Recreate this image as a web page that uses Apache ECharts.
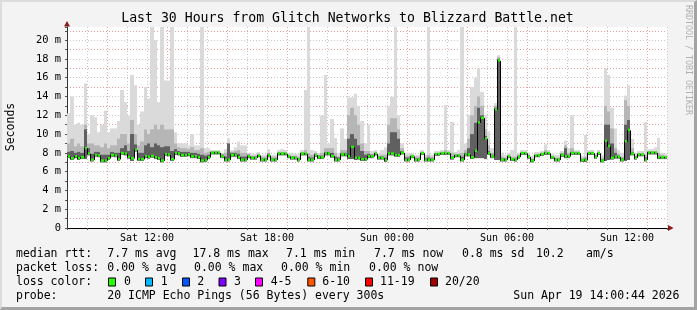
<!DOCTYPE html>
<html><head><meta charset="utf-8">
<script src="https://cdn.jsdelivr.net/npm/echarts@6/dist/echarts.min.js"></script>
<style>
html,body{margin:0;padding:0;background:#f3f3f3;overflow:hidden;}
#c{width:697px;height:310px;position:absolute;left:0;top:0;}
#frame{position:absolute;left:0;top:0;width:697px;height:310px;box-sizing:border-box;border-top:2px solid #dcdcdc;border-left:2px solid #dcdcdc;border-right:3px solid #a3a3a3;border-bottom:3px solid #a3a3a3;pointer-events:none;}
</style></head><body><div id="c"></div><div id="frame"></div>
<script>
// ---- data ----
const startHour = 8;          // Sat 08:00
const stepHours = 1 / 6;      // 10-minute samples
const median = [
7.6,7.4,7.6,7.4,7.5,8.5,7.9,7.25,7.75,7.7,
7.15,7.15,7.4,7.75,7.7,7.3,7.95,7.9,7.55,7.4,
8.3,7.3,7.3,7.6,7.55,7.65,7.5,7.4,7.15,7.85,
7.8,7.3,7.95,7.9,7.75,7.75,7.8,7.6,7.6,7.5,
7.15,7.2,7.5,8.0,8.0,8.0,7.6,7.25,7.25,7.75,
7.75,7.5,7.25,7.25,7.6,7.45,7.45,7.7,7.25,7.25,
7.7,7.25,7.25,7.9,7.9,7.9,7.6,7.45,7.45,7.25,
7.9,7.9,7.25,7.25,7.75,7.5,7.5,7.9,7.9,7.65,
7.25,7.25,7.8,7.8,7.6,8.6,7.45,7.45,7.3,7.3,
7.6,7.6,7.9,7.45,7.45,7.2,7.9,7.9,7.75,7.75,
8.0,7.25,7.25,7.6,7.25,7.25,7.95,7.25,7.25,7.25,
7.85,7.85,7.95,7.95,7.95,7.45,7.7,7.7,7.25,7.8,
7.8,7.5,8.2,11.2,11.7,9.5,7.95,7.6,12.6,17.8,
7.25,7.25,7.6,7.3,7.25,7.55,7.95,7.95,7.55,7.15,
7.7,7.7,7.85,7.95,7.95,7.5,7.25,7.25,7.75,7.6,
7.6,7.95,7.95,7.95,7.2,7.2,7.95,7.95,7.55,7.95,
7.15,9.25,8.7,7.45,7.55,7.55,7.25,9.2,10.4,7.9,
7.45,7.8,7.8,7.25,8.0,8.0,8.0,7.5,7.5,7.5];
const smokeHi = [
12.2,14.0,11.0,11.2,11.0,15.4,10.0,12.0,11.8,10.2,
11.0,12.5,10.2,10.6,10.6,11.4,14.7,13.4,12.0,16.3,
15.2,11.0,12.4,15.0,13.8,22,20.0,13.4,22,15.7,
15.7,22,10.2,9.0,9.0,9.0,8.8,10.0,8.8,8.8,
22,8.5,8.5,8.3,8.3,8.3,8.0,8.4,9.6,8.3,
8.6,9.2,8.8,8.8,8.0,7.9,7.9,8.1,7.8,7.8,
8.4,7.8,7.8,8.3,8.4,8.3,8.0,8.0,7.9,7.9,
8.3,14.7,22,8.3,8.2,8.0,12.0,16.3,9.0,11.6,
9.6,8.0,10.6,9.5,13.9,13.9,14.3,13.0,11.4,9.0,
11.0,8.2,8.3,7.9,8.3,8.6,13.0,14.0,22,12.0,
9.0,8.0,8.0,8.0,7.8,7.8,8.3,7.8,22,7.8,
8.2,8.2,8.3,13.1,8.3,11.3,8.1,8.3,22,9.0,
12.0,15.0,16.0,17.0,14.5,12.0,10.3,8.5,13.3,18.4,
8.0,7.8,8.0,8.3,22,8.0,8.3,8.3,8.0,7.7,
8.1,8.1,8.2,8.9,8.3,7.9,7.8,7.8,8.2,9.3,
8.5,12.0,8.3,8.3,7.7,9.9,8.3,8.3,8.0,8.3,
7.8,17.0,16.3,12.8,10.6,8.3,8.0,14.1,15.2,9.5,
8.0,8.2,8.2,11.3,8.4,8.4,8.6,9.6,8.0,7.9];
const smokeMid = [
9.0,9.5,8.7,9.0,8.7,11.0,9.0,9.0,8.8,8.8,
8.6,9.0,8.5,8.8,8.8,9.5,10.0,10.0,9.0,11.5,
10.0,8.8,9.2,10.5,10.0,10.5,11.0,10.5,11.0,10.5,
10.5,10.5,9.0,8.6,8.5,8.5,8.4,8.6,8.3,8.3,
8.5,8.0,8.1,8.2,8.2,8.2,7.9,8.0,9.0,8.1,
8.2,8.3,8.0,8.0,7.9,7.7,7.7,7.9,7.6,7.6,
8.0,7.6,7.6,8.1,8.1,8.1,7.8,7.7,7.7,7.6,
8.1,8.3,8.0,7.8,8.0,7.8,8.0,8.5,8.5,8.5,
8.0,7.6,8.3,8.3,12.0,12.8,12.0,11.0,9.0,8.2,
8.2,7.9,8.1,7.7,7.8,7.8,11.0,11.7,11.7,10.5,
8.5,7.7,7.7,7.8,7.6,7.6,8.1,7.6,7.8,7.6,
8.0,8.0,8.1,8.3,8.1,8.0,7.9,7.9,8.0,8.3,
9.5,12.0,13.0,14.0,13.0,10.5,8.8,8.0,13.0,18.2,
7.6,7.5,7.8,7.6,7.6,7.8,8.1,8.1,7.8,7.4,
7.9,7.9,8.0,8.3,8.1,7.7,7.5,7.5,8.0,8.8,
8.0,8.5,8.1,8.1,7.5,7.6,8.1,8.1,7.8,8.1,
7.5,13.0,12.4,10.6,8.5,7.9,7.6,13.6,13.0,8.5,
7.7,8.0,8.0,7.8,8.2,8.2,8.2,8.0,7.8,7.7];
const smokeDark = [
8.1,8.2,8.0,8.1,8.0,10.5,8.5,7.9,8.1,8.1,
7.8,7.8,7.8,8.1,8.0,8.0,8.5,8.8,8.2,10.0,
8.9,8.0,8.0,8.8,9.0,8.6,9.0,8.8,8.6,8.7,
8.7,8.2,8.4,8.2,8.1,8.1,8.1,8.0,8.0,7.9,
7.8,7.7,7.8,8.1,8.1,8.1,7.8,7.6,9.0,8.0,
8.0,7.9,7.6,7.6,7.8,7.6,7.6,7.8,7.4,7.4,
7.9,7.4,7.4,8.0,8.0,8.0,7.7,7.6,7.6,7.4,
8.0,8.0,7.6,7.5,7.9,7.7,7.7,8.1,8.1,8.0,
7.6,7.5,8.0,8.0,9.5,10.0,9.5,8.8,8.2,7.8,
7.9,7.8,8.0,7.6,7.6,7.5,9.0,10.2,10.2,9.5,
8.2,7.5,7.5,7.7,7.4,7.4,8.0,7.4,7.5,7.4,
7.9,7.9,8.0,8.0,8.0,7.6,7.8,7.8,7.6,8.0,
8.5,10.0,11.2,12.8,12.0,9.8,8.2,7.8,12.8,18.0,
7.4,7.4,7.7,7.4,7.4,7.7,8.0,8.0,7.7,7.3,
7.8,7.8,7.9,8.1,8.0,7.6,7.4,7.4,7.9,8.5,
7.8,8.1,8.0,8.0,7.3,7.4,8.0,8.0,7.7,8.0,
7.3,11.0,11.0,9.0,8.0,7.7,7.4,11.0,11.5,8.1,
7.6,7.9,7.9,7.5,8.1,8.1,8.1,7.7,7.6,7.6];
// lowest ping where the smoke reaches well below the median
const smokeLowSpikes = {5:7.5,19:7.3,84:7.5,85:7.5,86:7.4,122:7.6,123:7.6,124:7.6,125:7.5,128:7.4,129:7.4,161:7.3,162:7.4,167:7.3,168:7.4};
const xTickLabels = {12:'Sat 12:00',18:'Sat 18:00',24:'Sun 00:00',30:'Sun 06:00',36:'Sun 12:00'};
const yTickLabels = {0:'0',2:'2 m',4:'4 m',6:'6 m',8:'8 m',10:'10 m',12:'12 m',14:'14 m',16:'16 m',18:'18 m',20:'20 m'};
const titleText = 'Last 30 Hours from Glitch Networks to Blizzard Battle.net';
const yAxisName = 'Seconds';
const rowHeads = ['median rtt:','packet loss:','loss color:','probe:'];
const rttStats = ['7.7 ms avg','17.8 ms max','7.1 ms min','7.7 ms now','0.8 ms sd','10.2','am/s'];
const lossStats = ['0.00 % avg','0.00 % max','0.00 % min','0.00 % now'];
const lossLabels = ['0','1','2','3','4-5','6-10','11-19','20/20'];
const lossColors = ['#26ff00','#00b8ff','#0059ff','#7e00ff','#ff00ff','#ff5500','#ff0000','#a10000'];
const probeText = '20 ICMP Echo Pings (56 Bytes) every 300s';
const dateText = 'Sun Apr 19 14:00:44 2026';
const sideText = 'RRDTOOL / TOBI OETIKER';

// ---- layout ----
const MONO = '"DejaVu Sans Mono", monospace';
const rowY = [254.5, 268.5, 282.5, 296.5];
const rttX = [107.3, 192.5, 286, 374, 462, 536, 586];
const lossX = [107.3, 194, 281, 369];
const boxX = [108, 145, 182, 218.5, 255, 307.3, 365, 430];
const boxLabelX = [124, 160.7, 197.3, 234, 270.7, 322.3, 380, 445];

const smokeData = median.map((m, i) => [startHour + i * stepHours, m, smokeHi[i], smokeMid[i], smokeDark[i],
  (smokeLowSpikes[i] !== undefined ? smokeLowSpikes[i] : m)]);
const medData = median.map((m, i) => [startHour + i * stepHours, m, i > 0 ? median[i - 1] : m]);

function renderSmoke(params, api) {
  const t = api.value(0);
  const xa = Math.round(api.coord([t, 0])[0]);
  const xb = Math.round(api.coord([t + stepHours, 0])[0]);
  const yLow = api.coord([t, api.value(5)])[1] + 1.5;
  const bands = [[api.value(2), '#dadada'], [api.value(3), '#b6b6b6'], [api.value(4), '#606060']];
  const children = [];
  bands.forEach(b => {
    const yTop = api.coord([t, b[0]])[1];
    if (yLow - yTop > 0.5) children.push({type: 'rect', shape: {x: xa, y: yTop, width: Math.max(1, xb - xa), height: yLow - yTop}, style: {fill: b[1]}});
  });
  return {type: 'group', children};
}
function renderMedian(params, api) {
  const t = api.value(0);
  const xa = Math.round(api.coord([t, 0])[0]);
  const xb = Math.round(api.coord([t + stepHours, 0])[0]);
  const y = api.coord([t, api.value(1)])[1];
  const yp = api.coord([t, api.value(2)])[1];
  return {type: 'group', children: [
    {type: 'line', shape: {x1: xa + 0.5, y1: yp, x2: xa + 0.5, y2: y}, style: {stroke: '#000', lineWidth: 1}},
    {type: 'line', shape: {x1: xa, y1: y, x2: xb, y2: y}, style: {stroke: '#000', lineWidth: 1}},
    {type: 'rect', shape: {x: xa + 1, y: y - 1.5, width: Math.max(1, xb - xa - 1), height: 2.5}, style: {fill: '#22f500'}}
  ]};
}

const graphics = [];
graphics.push({type: 'text', x: 347.5, y: 19, style: {text: titleText, font: '13.2px ' + MONO, fill: '#000', align: 'center', verticalAlign: 'middle'}});
graphics.push({type: 'text', x: 11, y: 127, rotation: Math.PI / 2, style: {text: yAxisName, font: '11.5px ' + MONO, fill: '#000', align: 'center', verticalAlign: 'middle'}});
graphics.push({type: 'text', x: 688, y: 60, rotation: -Math.PI / 2, style: {text: sideText, font: '8.3px ' + MONO, fill: '#b0b0b0', align: 'center', verticalAlign: 'middle'}});
const LF = '11.5px ' + MONO;
function addText(txt, x, y) {
  graphics.push({type: 'text', x: x, y: y, style: {text: txt, font: LF, fill: '#000', align: 'left', verticalAlign: 'middle'}});
}
rowHeads.forEach((h, r) => addText(h, 16, rowY[r]));
rttStats.forEach((s, k) => addText(s, rttX[k], rowY[0]));
lossStats.forEach((s, k) => addText(s, lossX[k], rowY[1]));
lossLabels.forEach((s, k) => {
  graphics.push({type: 'rect', shape: {x: boxX[k] + 0.5, y: rowY[2] - 4.5, width: 7, height: 8}, style: {fill: lossColors[k], stroke: '#000', lineWidth: 1}});
  addText(s, boxLabelX[k], rowY[2]);
});
addText(probeText, 107.3, rowY[3]);
addText(dateText, 513.3, rowY[3]);

const chart = echarts.init(document.getElementById('c'), null, {renderer: 'canvas'});
const option = {
  animation: false,
  backgroundColor: '#f3f3f3',
  grid: {left: 67, right: 30, top: 27, bottom: 82, show: true, backgroundColor: '#ffffff', borderWidth: 0},
  xAxis: {
    type: 'value', min: 8, max: 38, interval: 1,
    axisLine: {lineStyle: {color: '#000', width: 1}},
    axisTick: {show: true, length: 2, lineStyle: {color: '#555'}},
    axisLabel: {margin: 5, color: '#000', fontFamily: MONO, fontSize: 10, formatter: v => xTickLabels[v] || ''},
    splitLine: {show: true, showMinLine: false, lineStyle: {color: ['#c8c8c8', '#e9a0a0', '#c8c8c8'], type: [1, 2], width: 1}}
  },
  yAxis: {
    type: 'value', min: 0, max: 21.4, interval: 1,
    axisLine: {show: true, lineStyle: {color: '#333', width: 1}},
    axisTick: {show: true, length: 2, lineStyle: {color: '#555'}},
    axisLabel: {margin: 6, color: '#000', fontFamily: MONO, fontSize: 10.4, formatter: v => yTickLabels[v] || ''},
    splitLine: {show: true, showMinLine: false, showMaxLine: false, lineStyle: {color: ['#e9a0a0', '#c8c8c8'], type: [1, 2], width: 1}}
  },
  series: [
    {type: 'custom', name: 'smoke', clip: true, renderItem: renderSmoke, data: smokeData, z: 3},
    {type: 'custom', name: 'median', clip: true, renderItem: renderMedian, data: medData, z: 4}
  ],
  graphic: graphics
};
chart.setOption(option);
const pEnd = chart.convertToPixel({gridIndex: 0}, [38, 0]);
const pTop = chart.convertToPixel({gridIndex: 0}, [8, 21.4]);
graphics.push({type: 'polygon', shape: {points: [[pEnd[0] + 1, pEnd[1] - 3], [pEnd[0] + 6.5, pEnd[1]], [pEnd[0] + 1, pEnd[1] + 3]]}, style: {fill: '#8b1a1a'}});
graphics.push({type: 'polygon', shape: {points: [[pTop[0] - 3, pTop[1] - 0.5], [pTop[0], pTop[1] - 6], [pTop[0] + 3, pTop[1] - 0.5]]}, style: {fill: '#8b1a1a'}});
chart.setOption({graphic: graphics});
</script></body></html>
